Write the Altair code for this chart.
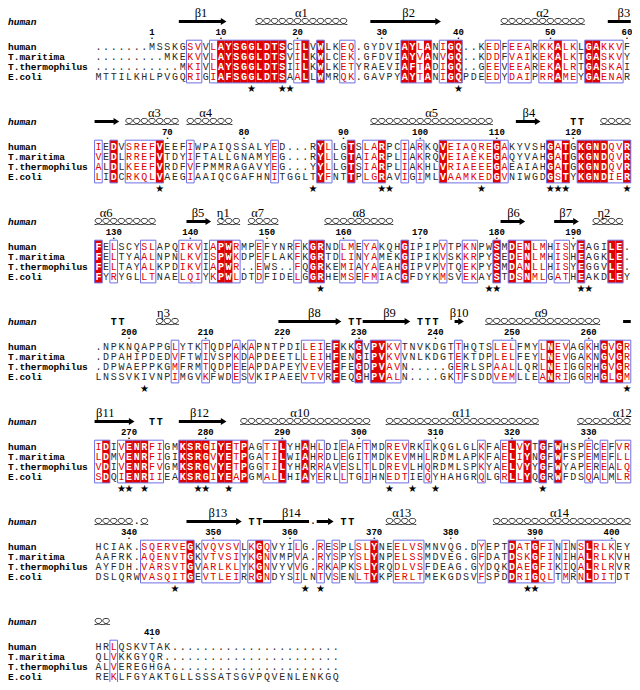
import altair as alt
import pandas as pd

NAMES = ["human", "T.maritima", "T.thermophilus", "E.coli"]

HUMAN = [
    ".......MSSKGSVVLAYSGGLDTSCILVWLKEQ.GYDVIAYLANIGQ..KEDFEEARKKALKLGAKKVF",
    "IEDVSREFVEEFIWPAIQSSALYED...RYLLGTSLARPCIARKQVEIAQREGAKYVSHGATGKGNDQVR",
    "FELSCYSLAPQIKVIAPWRMPEFYNRFKGRNDLMEYAKQHGIPIPVTPKNPWSMDENLMHISYEAGILE.",
    ".NPKNQAPPGLYTKTQDPAKAPNTPDILEIEFKKGVPVKVTNVKDGTTHQTSLELFMYLNEVAGKHGVGR",
    "IDIVENRFIGMKSRGIYETPAGTILYHAHLDIEAFTMDREVRKIKQGLGLKFAELVYTGFWHSPECEFVR",
    "HCIAK.SQERVEGKVQVSVLKGQVYILG.RESPLSLYNEELVSMNVQG.DYEPTDATGFININSLRLKEY",
    "HRLQSKVTAK" + "." * 22,
]
TMAR = [
    ".........MKEKVVLAYSGGLDTSVILKWLCEK.GFDVIAYVANVGQ..KDDFVAIKEKALKTGASKVY",
    "VEDLRREFVTDYIFTALLGNAMYEG...RYLLGTAIARPLIAKRQVEIAEKEGAQYVAHGATGKGNDQVR",
    "FELTYAALNPNLKVISPWKDPEFLAKFKGRTDLINYAMEKGIPIKVSKKRPYSEDENLMHISHEAGKLE.",
    ".DPAHIPDEDVFTWIVSPKDAPDEETLLEIHFENGIPVKVVNLKDGTEKTDPLELFEYLNEVGAKNGVGR",
    "LDMVENRFIGIKSRGVYETPGATILWIAHRDLEGITMDKEVMHLRDMLAPKFAELIYNGFWFSPEMEFLL",
    "AAFRK.AQENVTGKVTVSIYKGNVMPVA.RYSPYSLYNPELSSMDVEG.GFDATDSKGFINIHALRLKVH",
    "QLVKKGYQR" + "." * 23,
]
TTHE = [
    "...........MKIVLAYSGGLDTSIILKWLKETYRAEVIAFTADIGQ..GEEVEEAREKALRTGASKAI",
    "ALDLKEEFVRDFVFPMMRAGAVYEG...YYLLGTSIARPLIAKHLVRIAEEEGAEAIAHGATGKGNDQVR",
    "FELTAYALKPDIKVIAPWR..EWS..FQGRKEMIAYAEAHGIPVPVTQEKPYSMDANLLHISYEGGVLE.",
    ".DPWAEPPKGMFRMTQDPEEAPDAPEYVEVEFFEGDPVAVN.....GERLSPAALLQRLNEIGGRHGVGR",
    "VDIVENRFVGMKSRGVYETPGGTILYHARRAVESLTLDREVLHQRDMLSPKYAELVYYGFWYAPEREALQ",
    "AYFDH.VARSVTGVARLKLYKGNVYVVG.RKAPKSLYRQDLVSFDEAG.GYDQKDAEGFIKIQALRLRVR",
    "ALVEREGHGA" + "." * 22,
]
ECOLI = [
    "MTTILKHLPVGQRIGIAFSGGLDTSAALLWMRQK.GAVPYAYTANIGQPDEEDYDAIPRRAMEYGAENAR",
    "LIDCRKQLVAEGIAAIQCGAFHNITGGLTYFNTTPLGRAVIGIMLVAAMKEDGVNIWGDGSTYKGNDIER",
    "FYRYGLLTNAELQIYKPWLDTDFIDELGGRHEMSEFMIACGFDYKMSVEKAYSTDSNMLGATHEAKDLEY",
    "LNSSVKIVNPIMGVKFWDESVKIPAEEVTVRFEQGHPVALN....GKTFSDDVEMLLEANRIGGRHGLGM",
    "SDQIENRIIEAKSRGIYEAPGMALLHIAYERLLTGIHNEDTIEQYHAHGRQLGRLLYQGRWFDSQALMLR",
    "DSLQRWVASQITGEVTLEIRRGNDYSILNTVSENLTYKPERLTMEKGDSVFSPDDRIGQLTMRNLDITDT",
    "REKLFGYAKTGLLSSSATSGVPQVENLENKGQ",
]
# column classes: R = red box (conserved), f = framed (similar), . = none
MASKS = [
    ".........." "..ff.fRRRR" "RRRRR.fR.R" "..ff......" "RRfR.fRR.." ".ff.fff.ff" "Rff.RRfff.",
    "f.R.ffffR." "..f......." "...f.....R" "f..R.ffR.." "f.f..Rffff" "ffRf.....R" "fR.RRRRffR",
    "R.f...ff.." ".fff.fRRf." ".f....f.RR" "..ff.ff..." "R....f..ff" "..R.RfRff." "ff.R...RR.",
    ".........." "f...f...f." "f......fff" ".R..R.RRff" ".......f.." "..fff...fR" "ff..f.RfRf",
    "fR.fRRRff." ".RRRRfRRfR" "..ffR..R.f" "..f..f..ff" "f..f......" "f..fRfR.R." "R...f.f.ff",
    "......ffff" "ffR.fffff." "fRf...f..f" ".f..ffR..f" "fff......." "f...RffRff" ".f.fRfff..",
    "..f......." ".........." ".........." "..",
]
# secondary structure of the human protein: (block, first column, last column)
HELICES = [
    (0, 22, 33), (0, 54, 64),
    (1, 5, 11), (1, 13, 18), (1, 37, 52), (1, 67, 70),
    (2, 1, 8), (2, 17, 19), (2, 21, 24), (2, 31, 39), (2, 66, 69),
    (3, 9, 11), (3, 52, 66),
    (4, 20, 36), (4, 39, 58), (4, 64, 70),
    (5, 1, 5), (5, 7, 7), (5, 39, 42), (5, 53, 70),
    (6, 1, 2),
]
# (block, first column, last column, arrow head)
STRANDS = [
    (0, 12, 17, True), (0, 37, 45, True), (0, 68, 70, False),
    (1, 1, 3, True), (1, 56, 58, True),
    (2, 13, 15, True), (2, 54, 56, True), (2, 61, 63, True),
    (3, 25, 32, True), (3, 36, 41, True), (3, 48, 48, True), (3, 70, 70, False),
    (4, 1, 5, True), (4, 12, 17, True),
    (5, 13, 19, True), (5, 23, 28, False), (5, 30, 31, True),
]
TURNS = [(1, 63, "TT"), (3, 3, "TT"), (3, 34, "TT"), (3, 43, "TTT"), (4, 8, "TT"),
         (5, 21, "TT"), (5, 33, "TT")]
SS_LABELS = [
    (0, 14.4, "β1"), (0, 27.5, "α1"), (0, 41.5, "β2"), (0, 59.0, "α2"), (0, 69.6, "β3"),
    (1, 8.3, "α3"), (1, 15.0, "α4"), (1, 44.5, "α5"), (1, 57.2, "β4"),
    (2, 2.0, "α6"), (2, 14.0, "β5"), (2, 17.3, "η1"), (2, 21.8, "α7"), (2, 35.0, "α8"),
    (2, 55.2, "β6"), (2, 62.0, "β7"), (2, 67.0, "η2"),
    (3, 9.5, "η3"), (3, 29.2, "β8"), (3, 39.0, "β9"), (3, 48.1, "β10"), (3, 58.8, "α9"),
    (4, 1.9, "β11"), (4, 14.2, "β12"), (4, 27.3, "α10"), (4, 48.4, "α11"), (4, 69.4, "α12"),
    (5, 16.6, "β13"), (5, 26.2, "β14"), (5, 40.6, "α13"), (5, 61.2, "α14"),
]
GAP_MARKS = [(5, 6), (5, 29)]
STARS = [
    [21, 25, 26, 48],
    [9, 29, 38, 39, 51, 60, 61, 62, 70],
    [30, 52, 53, 64, 65],
    [7, 70],
    [4, 5, 7, 14, 15, 18, 39, 42, 45, 59],
    [11, 28, 30, 57, 58],
    [],
]

SEQS = [HUMAN, TMAR, TTHE, ECOLI]
for b in range(7):
    for s in SEQS:
        assert len(s[b]) == len(MASKS[b]), (b, s[b], len(s[b]), len(MASKS[b]))

# ---------------- layout ----------------
W, H = 624, 674
COL0, COLW = 90.4, 7.66
X0 = 1 - COL0 / COLW
X1 = X0 + W / COLW
BLOCK_H, ROW0, ROW_H = 100.0, 38.5, 10.2
RED, BLUE, INK = "#e00000", "#6f6fe6", "#2a2a2a"


def by(b, off):
    return ROW0 + b * BLOCK_H + off


XS = alt.Scale(domain=[X0, X1], nice=False, zero=False)
YS = alt.Scale(domain=[0, H], reverse=True, nice=False, zero=False)


def ex(f="x"):
    return alt.X(f + ":Q", scale=XS, axis=None)


def ey(f="y"):
    return alt.Y(f + ":Q", scale=YS, axis=None)


letters, reds, frames = [], [], []
for b in range(7):
    m = MASKS[b]
    for r, s in enumerate(SEQS):
        for i, ch in enumerate(s[b]):
            if ch == ".":
                kind = "plain"
            elif m[i] == "R":
                kind = "white"
            elif m[i] == "f":
                kind = "red"
            else:
                kind = "plain"
            letters.append(dict(x=i + 1, y=by(b, r * ROW_H), ch=ch, kind=kind))
    top, bot = by(b, -6.3), by(b, 3 * ROW_H + 5.8)
    for i in range(len(m)):
        if m[i] == "R":
            reds.append(dict(x=i + 0.5, x2=i + 1.5, y=top, y2=bot))
    i = 0
    while i < len(m):
        if m[i] != ".":
            j = i
            while j + 1 < len(m) and m[j + 1] != ".":
                j += 1
            frames.append(dict(x=i + 0.5, x2=j + 1.5, y=top, y2=bot))
            i = j + 1
        else:
            i += 1
letters = pd.DataFrame(letters)

names = pd.DataFrame([dict(name=n, y=by(b, r * ROW_H)) for b in range(7) for r, n in enumerate(NAMES)])
heads = pd.DataFrame([dict(name="human", y=by(b, -25)) for b in range(7)])

nums, dots = [], []
res = 0
for b in range(7):
    for i, ch in enumerate(HUMAN[b]):
        if ch != ".":
            res += 1
            if res == 1 or res % 10 == 0:
                nums.append(dict(x=i + 1, y=by(b, -14.5), t=str(res)))
                dots.append(dict(x=i + 1, y=by(b, -10.5), t="."))
nums = pd.DataFrame(nums)
dots = pd.DataFrame(dots)

coils = pd.DataFrame([dict(x=c, y=by(b, -25)) for b, s, e in HELICES for c in range(s, e + 1)])
rules = pd.DataFrame([dict(x=s - 0.5, x2=(e + 0.05 if hd else e + 0.5), y=by(b, -25))
                      for b, s, e, hd in STRANDS])
arrow_heads = pd.DataFrame([dict(x=e + 0.35, y=by(b, -25)) for b, s, e, hd in STRANDS if hd])
turns = pd.DataFrame([dict(x=c + k, y=by(b, -25), t="T") for b, c, t in TURNS for k in range(len(t))])
gapm = pd.DataFrame([dict(x=c, y=by(b, -26), t=".") for b, c in GAP_MARKS])
sslab = pd.DataFrame([dict(x=c, y=by(b, -33.5), t=t) for b, c, t in SS_LABELS])
stars = pd.DataFrame([dict(x=c, y=by(b, 42), t="★") for b in range(7) for c in STARS[b]])

COIL = ("M-1,0.8C0.1,0.8 0.85,0.2 0.85,-0.25C0.85,-0.65 0.45,-0.8 0,-0.8"
        "C-0.45,-0.8 -0.85,-0.65 -0.85,-0.25C-0.85,0.2 -0.1,0.8 1,0.8")
HEAD = "M-0.8,-1L0.8,0L-0.8,1Z"

seqfont = dict(font="Liberation Mono", fontSize=10, baseline="middle", align="center")

layers = [
    alt.Chart(pd.DataFrame(reds)).mark_rect(color=RED).encode(
        x=ex(), x2="x2:Q", y=ey(), y2="y2:Q"),
    alt.Chart(pd.DataFrame(frames)).mark_rect(filled=False, stroke=BLUE, strokeWidth=1).encode(
        x=ex(), x2="x2:Q", y=ey(), y2="y2:Q"),
    alt.Chart(letters[letters.kind == "plain"]).mark_text(color=INK, **seqfont).encode(
        x=ex(), y=ey(), text="ch:N"),
    alt.Chart(letters[letters.kind == "red"]).mark_text(color=RED, **seqfont).encode(
        x=ex(), y=ey(), text="ch:N"),
    alt.Chart(letters[letters.kind == "white"]).mark_text(color="white", fontWeight="bold", **seqfont).encode(
        x=ex(), y=ey(), text="ch:N"),
    alt.Chart(names).mark_text(font="Liberation Mono", fontSize=9.5, fontWeight="bold", align="left",
                               baseline="middle", color="black").encode(
        x=alt.value(0), y=ey(), text="name:N"),
    alt.Chart(heads).mark_text(font="Liberation Mono", fontSize=9.5, fontWeight="bold", fontStyle="italic",
                               align="left", baseline="middle", color="black").encode(
        x=alt.value(0), y=ey(), text="name:N"),
    alt.Chart(nums).mark_text(font="Liberation Mono", fontSize=9, fontWeight="bold", baseline="middle",
                              align="center", color="black").encode(x=ex(), y=ey(), text="t:N"),
    alt.Chart(dots).mark_text(font="Liberation Mono", fontSize=9, fontWeight="bold", baseline="middle",
                              align="center", color="black").encode(x=ex(), y=ey(), text="t:N"),
    alt.Chart(coils).mark_point(shape=COIL, size=COLW * COLW, filled=False, color="black",
                                strokeWidth=0.8, opacity=1).encode(x=ex(), y=ey()),
    alt.Chart(rules).mark_rule(strokeWidth=3, color="black").encode(x=ex(), x2="x2:Q", y=ey()),
    alt.Chart(arrow_heads).mark_point(shape=HEAD, size=50, filled=True, color="black",
                                      opacity=1).encode(x=ex(), y=ey()),
    alt.Chart(turns).mark_text(font="Liberation Mono", fontSize=10, fontWeight="bold", baseline="middle",
                               align="center", color="black").encode(x=ex(), y=ey(), text="t:N"),
    alt.Chart(gapm).mark_text(font="Liberation Mono", fontSize=10, baseline="middle",
                              align="center", color="black").encode(x=ex(), y=ey(), text="t:N"),
    alt.Chart(sslab).mark_text(font="Liberation Serif", fontSize=12.5, baseline="middle",
                               align="center", color="black").encode(x=ex(), y=ey(), text="t:N"),
    alt.Chart(stars).mark_text(font="DejaVu Sans", fontSize=10, baseline="middle",
                               align="center", color="black").encode(x=ex(), y=ey(), text="t:N"),
]

chart = alt.layer(*layers).properties(
    width=W, height=H, padding=0, autosize=alt.AutoSizeParams(type="none"),
    background="white",
).configure_view(strokeWidth=0)

chart.save("out.html", embed_options={"renderer": "svg", "actions": False})
